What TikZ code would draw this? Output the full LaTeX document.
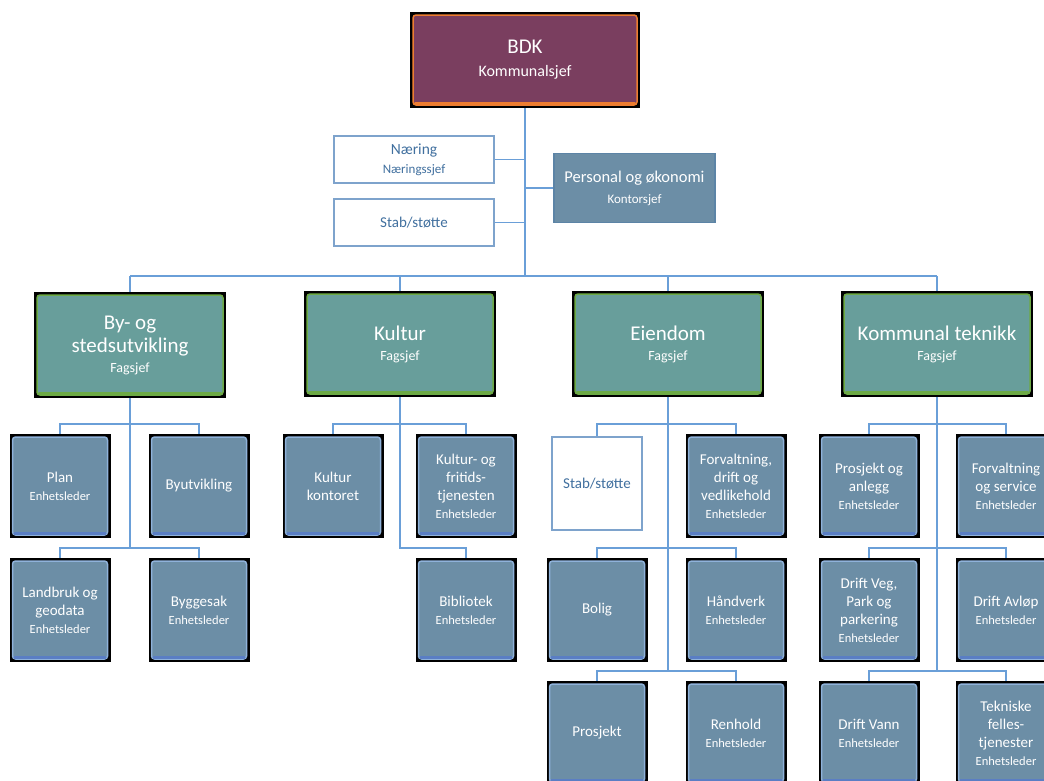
\documentclass[tikz,border=0pt]{standalone}
\usepackage{fontspec}
\setmainfont{Carlito}
\definecolor{purp}{HTML}{7A3E5F}
\definecolor{orng}{HTML}{ED7D31}
\definecolor{tealbox}{HTML}{689E9B}
\definecolor{grn}{HTML}{6DAA45}
\definecolor{steel}{HTML}{6C8EA6}
\definecolor{steeledge}{HTML}{8FB2DA}
\definecolor{steelbot}{HTML}{5A7EC4}
\definecolor{lnk}{HTML}{6A9FD8}
\definecolor{wtxt}{HTML}{41709F}
\definecolor{wedge}{HTML}{7EA3CC}
\definecolor{pedge}{HTML}{5C84A6}
\newcommand\mysub[1]{{\fontsize{12.5}{15}\selectfont #1}}
\newcommand\grpsub[1]{{\fontsize{14}{17}\selectfont #1}}
\tikzset{
  innerbox/.style n args={3}{path picture={
     \draw[rounded corners=3pt, fill=#1, draw=#2, line width=1.5pt]
       ([shift={(3pt,3pt)}]path picture bounding box.south west) rectangle
       ([shift={(-3pt,-3pt)}]path picture bounding box.north east);
     \draw[#3, line width=2.2pt, line cap=round]
       ([shift={(5pt,4.5pt)}]path picture bounding box.south west) --
       ([shift={(-5pt,4.5pt)}]path picture bounding box.south east);}},
  lowbox/.style={rectangle, minimum width=101pt, minimum height=104pt, fill=black, inner sep=0pt,
     text=white, align=center, font=\fontsize{15}{18}\selectfont, innerbox={steel}{steeledge}{steelbot}},
  grpbox/.style={rectangle, minimum width=192pt, minimum height=106pt, fill=black, inner sep=0pt,
     text=white, align=center, font=\fontsize{21}{23}\selectfont, innerbox={tealbox}{grn}{grn}},
  topbox/.style={rectangle, minimum width=230pt, minimum height=96pt, fill=black, inner sep=0pt,
     text=white, align=center, font=\fontsize{21}{23}\selectfont, innerbox={purp}{orng}{orng}},
  whitebox/.style={rectangle, draw=wedge, line width=1.2pt, fill=white, inner sep=0pt,
     text=wtxt, align=center, font=\fontsize{15.5}{19}\selectfont},
  pbox/.style={rectangle, draw=pedge, line width=1.2pt, fill=steel, inner sep=0pt,
     text=white, align=center, font=\fontsize{16.5}{21}\selectfont},
  conn/.style={draw=lnk, line width=1.8pt},
}
\begin{document}
\begin{tikzpicture}[x=1pt,y=-1pt]
\clip (0,0) rectangle (1044,780);
\fill[white] (0,0) rectangle (1044,780);

% coordinates for buses
\coordinate (bus) at (525,276);
\coordinate (r1) at (0,424);
\coordinate (r2) at (0,548);
\coordinate (r3) at (0,671);

% top
\node[topbox] (bdk) at (525,60) {BDK\\\fontsize{16}{19}\selectfont Kommunalsjef};
\node[whitebox, minimum width=160pt, minimum height=47pt] (naer) at (414,159.5) {Næring\\\fontsize{13}{15}\selectfont Næringssjef};
\node[whitebox, minimum width=160pt, minimum height=47pt, font=\fontsize{15}{18}\selectfont] (stab) at (414,222.5) {Stab/støtte};
\node[pbox, minimum width=161pt, minimum height=69pt] (pers) at (634.5,188) {Personal og økonomi\\\fontsize{13}{15}\selectfont Kontorsjef};

% groups
\node[grpbox] (by) at (130,345) {By- og\\stedsutvikling\\[-3pt]\grpsub{Fagsjef}};
\node[grpbox] (kul) at (400,344) {Kultur\\[-3pt]\grpsub{Fagsjef}};
\node[grpbox] (eie) at (668,344) {Eiendom\\[-3pt]\grpsub{Fagsjef}};
\node[grpbox] (kt) at (937,344) {Kommunal teknikk\\[-3pt]\grpsub{Fagsjef}};

% By- og stedsutvikling
\node[lowbox] (plan) at (60,486) {Plan\\\mysub{Enhetsleder}};
\node[lowbox] (byutv) at (199,486) {Byutvikling};
\node[lowbox] (land) at (60,610) {Landbruk og\\geodata\\\mysub{Enhetsleder}};
\node[lowbox] (bygg) at (199,610) {Byggesak\\\mysub{Enhetsleder}};

% Kultur
\node[lowbox] (kk) at (333,486) {Kultur\\kontoret};
\node[lowbox] (kf) at (466,486) {Kultur- og\\fritids-\\tjenesten\\\mysub{Enhetsleder}};
\node[lowbox] (bib) at (466,610) {Bibliotek\\\mysub{Enhetsleder}};

% Eiendom
\node[whitebox, minimum width=90pt, minimum height=93pt, font=\fontsize{15}{18}\selectfont] (estab) at (597,483.5) {Stab/støtte};
\node[lowbox] (fdv) at (736,486) {Forvaltning,\\drift og\\vedlikehold\\\mysub{Enhetsleder}};
\node[lowbox] (bol) at (597,610) {Bolig};
\node[lowbox] (hand) at (736,610) {Håndverk\\\mysub{Enhetsleder}};
\node[lowbox] (pro) at (597,733) {Prosjekt};
\node[lowbox] (ren) at (736,733) {Renhold\\\mysub{Enhetsleder}};

% Kommunal teknikk
\node[lowbox] (pa) at (869,486) {Prosjekt og\\anlegg\\\mysub{Enhetsleder}};
\node[lowbox] (fs) at (1006,486) {Forvaltning\\og service\\\mysub{Enhetsleder}};
\node[lowbox] (dvp) at (869,610) {Drift Veg,\\Park og\\parkering\\\mysub{Enhetsleder}};
\node[lowbox] (da) at (1006,610) {Drift Avløp\\\mysub{Enhetsleder}};
\node[lowbox] (dv) at (869,733) {Drift Vann\\\mysub{Enhetsleder}};
\node[lowbox] (tf) at (1006,733) {Tekniske\\felles-\\tjenester\\\mysub{Enhetsleder}};

% connectors
\draw[conn] (bdk.south) -- (bdk.south |- bus);
\draw[conn] (naer.east) -- (naer.east -| bdk.south);
\draw[conn] (stab.east) -- (stab.east -| bdk.south);
\draw[conn] (pers.west) -- (pers.west -| bdk.south);
\draw[conn] (by.north |- bus) -- (kt.north |- bus);
\foreach \g in {by,kul,eie,kt} \draw[conn] (\g.north |- bus) -- (\g.north);

% By
\draw[conn] (by.south) -- (by.south |- r2);
\draw[conn] (plan.north) -- (plan.north |- r1) -- (byutv.north |- r1) -- (byutv.north);
\draw[conn] (land.north) -- (land.north |- r2) -- (bygg.north |- r2) -- (bygg.north);
% Kultur
\draw[conn] (kul.south) -- (kul.south |- r2) -- (bib.north |- r2) -- (bib.north);
\draw[conn] (kk.north) -- (kk.north |- r1) -- (kf.north |- r1) -- (kf.north);
% Eiendom
\draw[conn] (eie.south) -- (eie.south |- r3);
\draw[conn] (estab.north) -- (estab.north |- r1) -- (fdv.north |- r1) -- (fdv.north);
\draw[conn] (bol.north) -- (bol.north |- r2) -- (hand.north |- r2) -- (hand.north);
\draw[conn] (pro.north) -- (pro.north |- r3) -- (ren.north |- r3) -- (ren.north);
% Kommunal teknikk
\draw[conn] (kt.south) -- (kt.south |- r3);
\draw[conn] (pa.north) -- (pa.north |- r1) -- (fs.north |- r1) -- (fs.north);
\draw[conn] (dvp.north) -- (dvp.north |- r2) -- (da.north |- r2) -- (da.north);
\draw[conn] (dv.north) -- (dv.north |- r3) -- (tf.north |- r3) -- (tf.north);
\end{tikzpicture}
\end{document}
